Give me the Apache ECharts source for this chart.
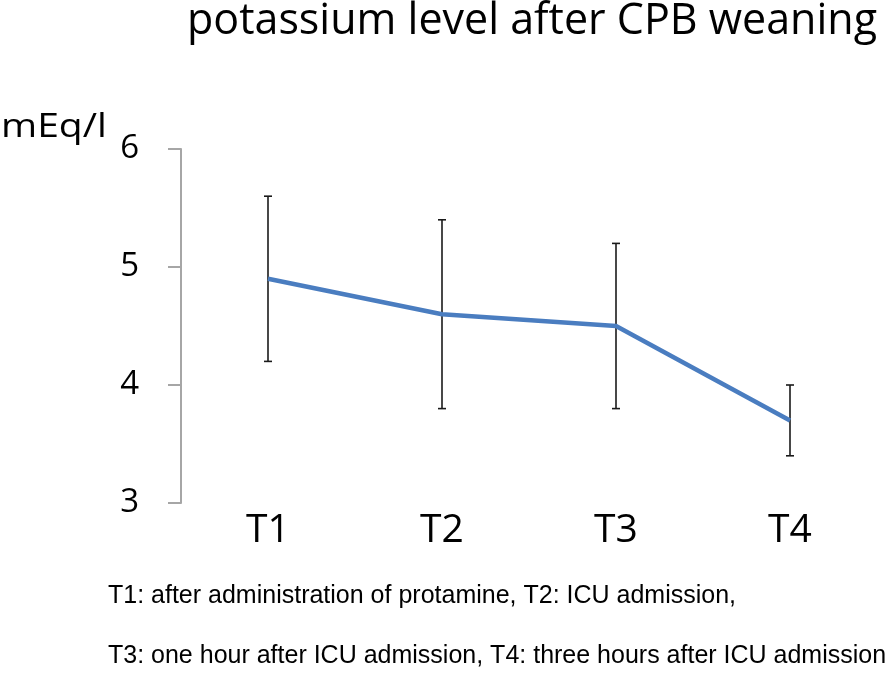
<!DOCTYPE html>
<html><head><meta charset="utf-8">
<script src="https://cdn.jsdelivr.net/npm/echarts@6/dist/echarts.min.js"></script>
<style>html,body{margin:0;padding:0;background:#fff}#c{width:894px;height:673px}</style>
</head><body><div id="c"></div>
<script>
const categories = ['T1', 'T2', 'T3', 'T4'];
const meanValues = [4.9, 4.6, 4.5, 3.7];
const upperValues = [5.6, 5.4, 5.2, 4.0];
const lowerValues = [4.2, 3.8, 3.8, 3.4];
const yTicks = [3, 4, 5, 6];

const chart = echarts.init(document.getElementById('c'));
const errData = categories.map((c, i) => [i, lowerValues[i], upperValues[i]]);
chart.setOption({
  animation: false,
  backgroundColor: '#fff',
  title: {
    text: 'potassium level after CPB weaning',
    right: 17, top: 0, padding: 0,
    textStyle: { fontFamily: 'Open Sans', fontWeight: 'normal', fontSize: 43, color: '#000' }
  },
  grid: { left: 181, right: 17, top: 149, bottom: 170 },
  xAxis: {
    type: 'category', data: categories, boundaryGap: true,
    axisLine: { show: false }, axisTick: { show: false },
    axisLabel: { margin: 8, fontFamily: 'Open Sans', fontSize: 39, color: '#000' }
  },
  yAxis: {
    type: 'value', min: yTicks[0], max: yTicks[yTicks.length - 1], interval: 1,
    splitLine: { show: false },
    axisLine: { show: true, lineStyle: { color: '#a6a6a6', width: 2 } },
    axisTick: { show: true, length: 13, lineStyle: { color: '#a6a6a6', width: 2 } },
    axisLabel: { margin: 42, fontFamily: 'Open Sans', fontSize: 33, color: '#000' }
  },
  graphic: [
    { type: 'text', left: 1, top: 112, scaleX: 1.22, style: { text: 'mEq/l', font: '32px "Open Sans"', fill: '#000' } },
    { type: 'text', left: 108, top: 584, style: { text: 'T1: after administration of protamine, T2: ICU admission,', font: '25px "Liberation Sans"', fill: '#000' } },
    { type: 'text', left: 108, top: 644, style: { text: 'T3: one hour after ICU admission, T4: three hours after ICU admission', font: '25px "Liberation Sans"', fill: '#000' } }
  ],
  series: [
    {
      type: 'custom', data: errData, z: 1,
      renderItem: function (params, api) {
        const x = api.value(0);
        const lo = api.coord([x, api.value(1)]);
        const hi = api.coord([x, api.value(2)]);
        const w = 4;
        const st = { stroke: '#1a1a1a', lineWidth: 1.6 };
        return { type: 'group', children: [
          { type: 'line', shape: { x1: lo[0], y1: lo[1], x2: hi[0], y2: hi[1] }, style: st },
          { type: 'line', shape: { x1: lo[0] - w, y1: lo[1], x2: lo[0] + w, y2: lo[1] }, style: st },
          { type: 'line', shape: { x1: hi[0] - w, y1: hi[1], x2: hi[0] + w, y2: hi[1] }, style: st }
        ]};
      }
    },
    {
      type: 'line', data: meanValues, z: 2, showSymbol: false, symbol: 'none',
      lineStyle: { color: '#4a7dc0', width: 4.5 }
    }
  ]
});
</script></body></html>
